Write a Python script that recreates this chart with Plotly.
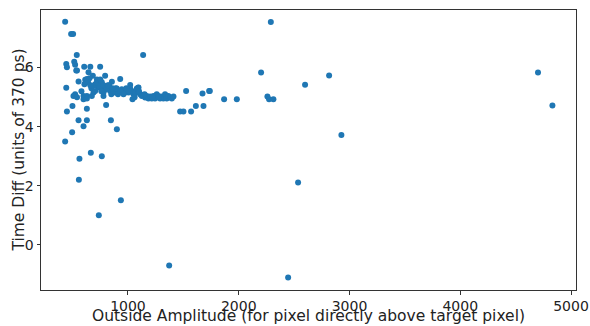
import plotly.graph_objects as go

# Outside amplitude (x) and time difference (y)
amp = [433, 487, 505, 538, 1137, 443, 449, 515, 523, 533, 540, 605, 660, 749, 644,
       554, 443, 930, 794, 1092, 1525, 1733, 1673, 1868, 1983, 1471, 1501, 1570,
       1613, 1682, 449, 499, 629, 554, 629, 599, 846, 900, 496, 433, 562, 665, 764,
       557, 936, 737, 1372,
       2290, 2202, 1739, 2259, 2274, 2313, 2599, 2816, 2927, 2536, 2446, 4702, 4832,
       683, 614, 629, 653, 607, 704, 734, 764, 855, 523, 508, 599, 629, 599, 629,
       689, 704, 674, 779, 779, 803, 1041,
       734, 764, 794, 824, 839, 869, 884, 899, 914, 944, 959, 975, 990, 1005, 1020,
       1020, 1035, 1050, 1065, 1080, 1095, 1095, 1110, 1125, 1140, 1155, 1170, 1185,
       1200, 1215, 1230, 1245, 1260, 1275, 1290, 1305, 1320, 1335, 1350, 1365, 1381,
       1396, 1411,
       670, 700, 720, 745, 760, 780, 810, 830, 850, 870, 890, 910, 930, 960, 985,
       1010, 1060, 1100, 1150, 1220, 1280, 640, 660, 720, 750, 820, 860, 540, 580]
tdiff = [7.55, 7.14, 7.14, 6.43, 6.43, 6.12, 6.01, 6.20, 6.10, 5.90, 5.90, 6.03, 6.03,
         6.03, 5.84, 5.53, 5.32, 5.61, 5.72, 5.32, 5.21, 5.21, 5.12, 4.93, 4.93, 4.51,
         4.51, 4.51, 4.70, 4.70, 4.51, 4.70, 4.61, 4.22, 4.22, 4.01, 4.22, 3.91, 3.81,
         3.50, 2.91, 3.12, 3.00, 2.20, 1.51, 1.00, -0.70,
         7.54, 5.83, 5.21, 5.02, 4.93, 4.93, 5.42, 5.73, 3.72, 2.11, -1.11, 5.83, 4.72,
         5.72, 5.59, 5.61, 5.64, 5.44, 5.44, 5.55, 5.50, 5.52, 5.10, 5.04, 5.04, 5.04,
         4.93, 4.95, 5.16, 5.21, 5.04, 5.04, 5.16, 4.73, 4.93,
         5.33, 5.29, 5.25, 5.29, 5.21, 5.27, 5.16, 5.29, 5.21, 5.27, 5.21, 5.16, 5.25,
         5.16, 5.41, 5.29, 5.21, 5.10, 5.16, 5.29, 5.33, 5.16, 5.10, 5.04, 5.07, 4.99,
         5.04, 4.95, 5.02, 4.95, 5.04, 4.95, 5.10, 5.04, 4.95, 5.02, 4.95, 5.10, 4.95,
         5.04, 4.99, 4.95, 5.02,
         5.30, 5.40, 5.50, 5.35, 5.20, 5.40, 5.30, 5.40, 5.10, 5.20, 5.30, 5.10, 5.20,
         5.10, 5.30, 5.20, 5.00, 5.20, 5.10, 5.00, 5.00, 5.50, 5.40, 5.60, 5.60, 5.40,
         5.30, 5.00, 5.20]

x_ticks = [1000, 2000, 3000, 4000, 5000]
y_ticks = [0, 2, 4, 6]
x_title = "Outside Amplitude (for pixel directly above target pixel)"
y_title = "Time Diff (units of 370 ps)"

fig = go.Figure(go.Scatter(
    x=amp, y=tdiff, mode="markers",
    marker=dict(color="#1f77b4", size=6, line=dict(width=0)),
))

axis_common = dict(
    showgrid=False, zeroline=False, showline=True, linecolor="#333333", linewidth=1,
    mirror=True, ticks="outside", ticklen=3.5, tickcolor="#333333", automargin=False,
    tickfont=dict(family="DejaVu Sans", size=14, color="#222"),
)
fig.update_layout(
    width=590, height=326,
    margin=dict(l=41, r=14, t=10, b=36),
    paper_bgcolor="white", plot_bgcolor="white",
    showlegend=False,
    font=dict(family="DejaVu Sans", color="#222"),
    xaxis=dict(range=[215, 5045], tickvals=x_ticks, **axis_common),
    yaxis=dict(range=[-1.53, 7.95], tickvals=y_ticks, **axis_common),
    annotations=[
        dict(text=x_title, xref="paper", yref="paper", x=0.5, y=-0.1286,
             xanchor="center", yanchor="bottom", showarrow=False, borderpad=0,
             font=dict(size=15.5, family="DejaVu Sans", color="#222")),
        dict(text=y_title, xref="paper", yref="paper", x=-0.042, y=0.5,
             xanchor="center", yanchor="middle", showarrow=False, textangle=-90,
             font=dict(size=15.5, family="DejaVu Sans", color="#222")),
    ],
)
fig.write_html("out.html")
